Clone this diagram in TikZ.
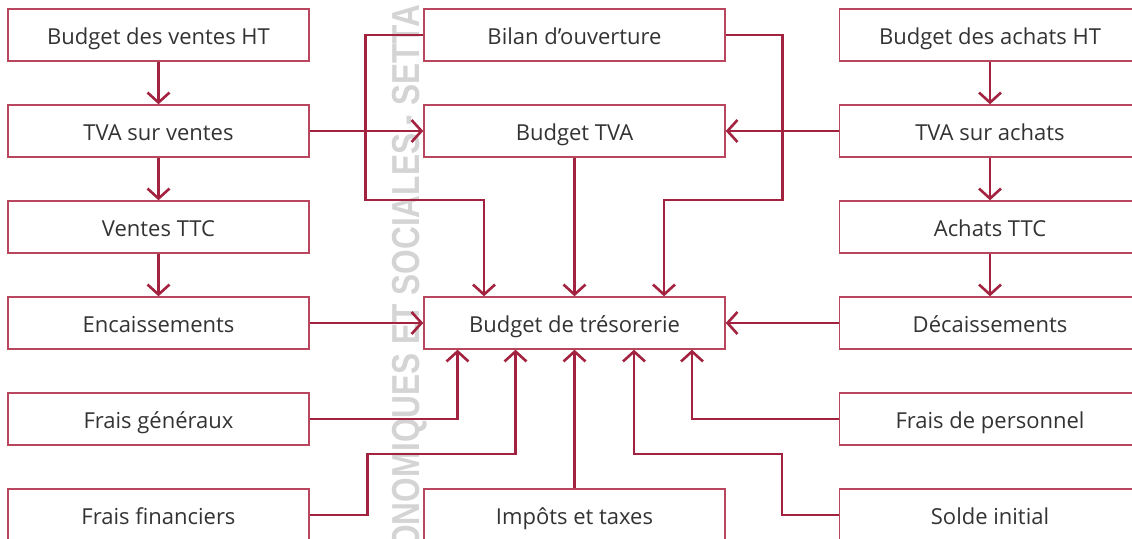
\documentclass[tikz,border=0pt]{standalone}
\usepackage{fontspec}
\setmainfont{Open Sans}
\newfontfamily\wmfont{Liberation Sans}
\usetikzlibrary{arrows.meta}
\definecolor{linecol}{HTML}{A3223F}
\definecolor{boxcol}{HTML}{B8465F}
\definecolor{txtcol}{HTML}{333333}
\definecolor{wmcol}{HTML}{D4D4D4}
\tikzset{
  box/.style={draw=boxcol, line width=1.4pt, rectangle, minimum width=301pt, minimum height=52pt, inner sep=0pt, text height=19pt, text depth=0pt, text=txtcol, font=\fontsize{22}{24}\selectfont},
  arr/.style={draw=linecol, line width=2.6pt, -{Straight Barb[length=10pt,width=22pt,line width=2.6pt]}},
  wm/.style={text=wmcol, font=\wmfont\bfseries\fontsize{39}{39}\selectfont, rotate=90, inner sep=0pt}
}
\begin{document}
\begin{tikzpicture}[x=1pt,y=-1pt]
\useasboundingbox (0,0) rectangle (1132,538);
\begin{scope}
\clip (0,0) rectangle (1132,538);
\node[wm, anchor=base west] (wmark) at (419,550) {\scalebox{0.81}[1]{ONOMIQUES ET SOCIALES - SETTA}};
% boxes
\node[box] (L1) at (158.5,35) {Budget des ventes HT};
\node[box] (L2) at (158.5,131) {TVA sur ventes};
\node[box] (L3) at (158.5,227) {Ventes TTC};
\node[box] (L4) at (158.5,323) {Encaissements};
\node[box] (L5) at (158.5,419) {Frais généraux};
\node[box] (L6) at (158.5,515) {Frais financiers};
\node[box] (M1) at (574.5,35) {Bilan d’ouverture};
\node[box] (M2) at (574.5,131) {Budget TVA};
\node[box] (M4) at (574.5,323) {Budget de trésorerie};
\node[box] (M6) at (574.5,515) {Impôts et taxes};
\node[box] (R1) at (990,35) {Budget des achats HT};
\node[box] (R2) at (990,131) {TVA sur achats};
\node[box] (R3) at (990,227) {Achats TTC};
\node[box] (R4) at (990,323) {Décaissements};
\node[box] (R5) at (990,419) {Frais de personnel};
\node[box] (R6) at (990,515) {Solde initial};
% vertical chains
\draw[arr] (L1) -- (L2);
\draw[arr] (L2) -- (L3);
\draw[arr] (L3) -- (L4);
\draw[arr] (R1) -- (R2);
\draw[arr] (R2) -- (R3);
\draw[arr] (R3) -- (R4);
% horizontal
\draw[arr] (L2) -- (M2);
\draw[arr] (R2) -- (M2);
\draw[arr] (L4) -- (M4);
\draw[arr] (R4) -- (M4);
% bilan
\draw[arr] (M1.west) -- ++(-58,0) -- ++(0,165) -| ([xshift=-90.5pt]M4.north);
\draw[arr] (M1.east) -- ++(57,0) -- ++(0,165) -| ([xshift=89.5pt]M4.north);
\draw[arr] (M2) -- (M4);
% bottom
\draw[arr] (L5.east) -| ([xshift=-117pt]M4.south);
\draw[arr] (L6.east) -- ++(58,0) -- ++(0,-61) -| ([xshift=-59pt]M4.south);
\draw[arr] (M6) -- (M4);
\draw[arr] (R6.west) -- ++(-57,0) -- ++(0,-61) -| ([xshift=59.5pt]M4.south);
\draw[arr] (R5.west) -| ([xshift=117.5pt]M4.south);
\end{scope}
\end{tikzpicture}
\end{document}
